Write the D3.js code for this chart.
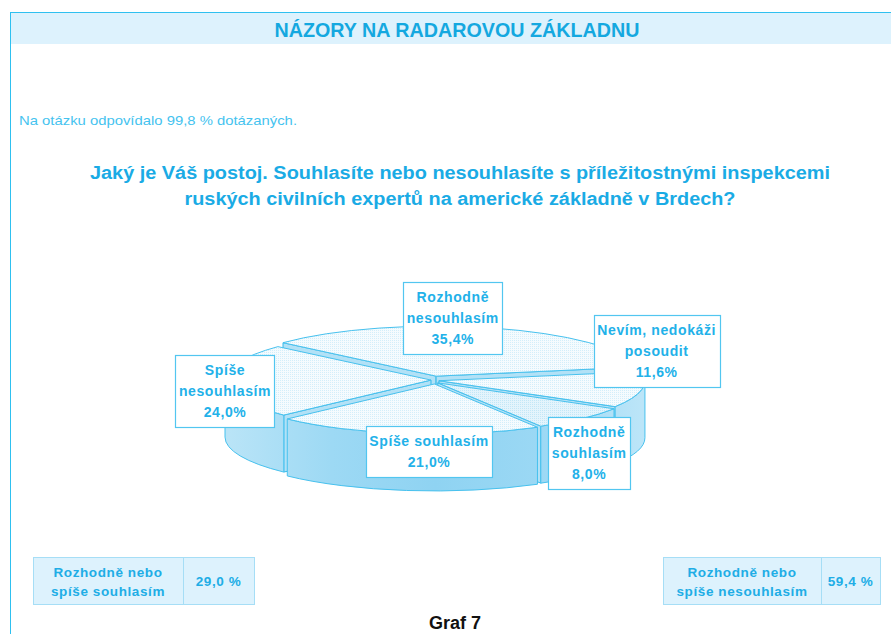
<!DOCTYPE html>
<html><head><meta charset="utf-8">
<script src="https://cdn.jsdelivr.net/npm/d3@7"></script>
<style>body{margin:0;background:#fff}svg{display:block}</style>
</head><body>
<svg id="c" width="891" height="634"></svg>
<script>
// ---------- data ----------
const categories = ["Rozhodně nesouhlasím", "Nevím, nedokáži posoudit", "Rozhodně souhlasím", "Spíše souhlasím", "Spíše nesouhlasím"];
const labelLines = [["Rozhodně", "nesouhlasím"], ["Nevím, nedokáži", "posoudit"], ["Rozhodně", "souhlasím"], ["Spíše souhlasím"], ["Spíše", "nesouhlasím"]];
const values = [35.4, 11.6, 8.0, 21.0, 24.0];
const summaryLabels = [["Rozhodně nebo", "spíše souhlasím"], ["Rozhodně nebo", "spíše nesouhlasím"]];
const summaryValues = [29.0, 59.4];
const titleText = "NÁZORY NA RADAROVOU ZÁKLADNU";
const noteText = "Na otázku odpovídalo 99,8 % dotázaných.";
const questionLines = ["Jaký je Váš postoj. Souhlasíte nebo nesouhlasíte s příležitostnými inspekcemi", "ruských civilních expertů na americké základně v Brdech?"];
const captionText = "Graf 7";

// ---------- layout ----------
const W = 891, H = 634;
const blue = "#22b1e9", line = "#47c1ee";
const cx = 435, cy = 380, rx = 206, ry = 50, depth = 57, explode = 4;
const labelNudge = [[-38, -14], [19, -38], [10, 37], [22, 22], [-4, 10]];
const fmt = v => d3.format(".1f")(v).replace(".", ",");

const svg = d3.select("#c");
const defs = svg.append("defs");
const p1 = defs.append("pattern").attr("id", "dotTop").attr("width", 2).attr("height", 2).attr("patternUnits", "userSpaceOnUse");
p1.append("rect").attr("width", 2).attr("height", 2).attr("fill", "#f5fbfe");
p1.append("rect").attr("width", 1).attr("height", 1).attr("fill", "#d3eefa");
const p2 = defs.append("pattern").attr("id", "dotTop2").attr("width", 2).attr("height", 2).attr("patternUnits", "userSpaceOnUse");
p2.append("rect").attr("width", 2).attr("height", 2).attr("fill", "#e4f4fc");
p2.append("rect").attr("width", 1).attr("height", 1).attr("fill", "#c2e7f7");
const g1 = defs.append("linearGradient").attr("id", "wallGrad").attr("gradientUnits", "userSpaceOnUse")
  .attr("x1", cx - rx).attr("x2", cx + rx).attr("y1", 0).attr("y2", 0);
[[0, "#b9e4f7"], [0.25, "#9dd9f4"], [0.5, "#8fd3f2"], [0.75, "#9bd8f4"], [1, "#bbe5f8"]]
  .forEach(([o, c]) => g1.append("stop").attr("offset", o).attr("stop-color", c));

// frame
svg.append("rect").attr("x", 10).attr("y", 12).attr("width", W - 10).attr("height", 32).attr("fill", "#ddf2fd");
svg.append("line").attr("x1", 10).attr("x2", W).attr("y1", 12.5).attr("y2", 12.5).attr("stroke", "#2ec0f0");
svg.append("line").attr("x1", 10.5).attr("x2", 10.5).attr("y1", 12).attr("y2", H).attr("stroke", "#2ec0f0");

svg.append("text").attr("x", 457).attr("y", 37).attr("text-anchor", "middle")
  .attr("font-family", "Liberation Sans, Arial, sans-serif").attr("font-weight", "bold").attr("font-size", 20)
  .attr("fill", "#14a8e0").attr("textLength", 365).attr("lengthAdjust", "spacingAndGlyphs").text(titleText);

svg.append("text").attr("x", 19).attr("y", 125)
  .attr("font-family", "Liberation Sans, Arial, sans-serif").attr("font-size", 13.5)
  .attr("fill", "#45c3ef").attr("textLength", 278).attr("lengthAdjust", "spacingAndGlyphs").text(noteText);

const qLen = [740, 551];
questionLines.forEach((t, i) => {
  svg.append("text").attr("x", 460).attr("y", 179 + i * 26).attr("text-anchor", "middle")
    .attr("font-family", "Liberation Sans, Arial, sans-serif").attr("font-weight", "bold").attr("font-size", 18)
    .attr("fill", "#1aabe5").attr("textLength", qLen[i]).attr("lengthAdjust", "spacingAndGlyphs").text(t);
});

// ---------- pie ----------
const startDeg = -48;
const pie = d3.pie().sort(null).value(d => d)
  .startAngle(startDeg * Math.PI / 180).endAngle(startDeg * Math.PI / 180 + 2 * Math.PI);
const arcs = pie(values).map((d, i) => {
  const t0 = d.startAngle - Math.PI / 2, t1 = d.endAngle - Math.PI / 2, m = (t0 + t1) / 2;
  return { i, t0, t1, m, ox: explode * Math.cos(m), oy: explode * Math.sin(m) };
});
const P = (a, t, dz = 0) => [cx + rx * Math.cos(t) + a.ox, cy + ry * Math.sin(t) + a.oy + dz];
const C = (a, dz = 0) => [cx + a.ox, cy + a.oy + dz];
const pt = p => p[0].toFixed(2) + "," + p[1].toFixed(2);

const pieG = svg.append("g");
// radial faces
const faces = [];
arcs.forEach(a => {
  if (Math.cos(a.t0) < 0) faces.push({ a, t: a.t0 });
  if (Math.cos(a.t1) > 0) faces.push({ a, t: a.t1 });
});
faces.sort((f, g) => Math.sin(f.t) - Math.sin(g.t));
pieG.selectAll("path.face").data(faces).join("path").attr("class", "face")
  .attr("d", f => "M" + pt(C(f.a)) + "L" + pt(P(f.a, f.t)) + "L" + pt(P(f.a, f.t, depth)) + "L" + pt(C(f.a, depth)) + "Z")
  .attr("fill", "#b2e1f6").attr("stroke", "#33b9ea").attr("stroke-width", 1).attr("stroke-linejoin", "round");
// outer walls (front half)
const walls = arcs.map(a => ({ a, lo: Math.max(a.t0, 0), hi: Math.min(a.t1, Math.PI) })).filter(w => w.hi > w.lo);
pieG.selectAll("path.wall").data(walls).join("path").attr("class", "wall")
  .attr("d", w => {
    const lg = (w.hi - w.lo) > Math.PI ? 1 : 0;
    return "M" + pt(P(w.a, w.lo)) + "A" + rx + "," + ry + " 0 " + lg + " 1 " + pt(P(w.a, w.hi)) +
      "L" + pt(P(w.a, w.hi, depth)) + "A" + rx + "," + ry + " 0 " + lg + " 0 " + pt(P(w.a, w.lo, depth)) + "Z";
  })
  .attr("fill", "url(#wallGrad)").attr("stroke", line).attr("stroke-width", 1).attr("stroke-linejoin", "round");
// top faces
pieG.selectAll("path.top").data(arcs).join("path").attr("class", "top")
  .attr("d", a => {
    const lg = (a.t1 - a.t0) > Math.PI ? 1 : 0;
    return "M" + pt(C(a)) + "L" + pt(P(a, a.t0)) + "A" + rx + "," + ry + " 0 " + lg + " 1 " + pt(P(a, a.t1)) + "Z";
  })
  .attr("fill", a => a.i === 2 ? "url(#dotTop2)" : "url(#dotTop)")
  .attr("stroke", line).attr("stroke-width", 1).attr("stroke-linejoin", "round");

// labels
const labG = svg.append("g").attr("font-family", "Liberation Sans, Arial, sans-serif")
  .attr("font-weight", "bold").attr("font-size", 14).attr("fill", blue);
arcs.forEach(a => {
  const rim = [cx + rx * Math.cos(a.m), cy + ry * Math.sin(a.m)];
  const lx = rim[0] + labelNudge[a.i][0], ly = rim[1] + labelNudge[a.i][1];
  const lines = labelLines[a.i].concat([fmt(values[a.i]) + "%"]);
  const h = lines.length * 21 + 9;
  const g = labG.append("g");
  const rect = g.append("rect").attr("fill", "#fff").attr("stroke", "#52c6f0").attr("stroke-width", 1.2);
  let wmax = 0;
  lines.forEach((t, k) => {
    const tx = g.append("text").attr("x", lx).attr("y", ly - h / 2 + 20 + k * 21)
      .attr("text-anchor", "middle").attr("letter-spacing", 0.6).text(t);
    wmax = Math.max(wmax, tx.node().getComputedTextLength());
  });
  const w = wmax + 7;
  rect.attr("x", Math.round(lx - w / 2) + 0.5).attr("y", Math.round(ly - h / 2) + 0.5).attr("width", Math.round(w)).attr("height", Math.round(h));
});

// summary boxes
const boxes = [{ x: 33, w: 221, div: 150 }, { x: 663, w: 217, div: 158 }];
const sumG = svg.append("g").attr("font-family", "Liberation Sans, Arial, sans-serif")
  .attr("font-weight", "bold").attr("font-size", 13.5).attr("fill", "#20ade6");
boxes.forEach((b, i) => {
  const y0 = 557, bh = 47;
  sumG.append("rect").attr("x", b.x + 0.5).attr("y", y0 + 0.5).attr("width", b.w).attr("height", bh)
    .attr("fill", "#ddf2fd").attr("stroke", "#a6def6");
  sumG.append("line").attr("x1", b.x + b.div + 0.5).attr("x2", b.x + b.div + 0.5).attr("y1", y0).attr("y2", y0 + bh)
    .attr("stroke", "#a6def6");
  summaryLabels[i].forEach((t, k) => {
    sumG.append("text").attr("x", b.x + b.div / 2).attr("y", y0 + 20 + k * 19).attr("text-anchor", "middle")
      .attr("letter-spacing", 0.6).text(t);
  });
  sumG.append("text").attr("x", b.x + b.div + (b.w - b.div) / 2).attr("y", y0 + 29).attr("text-anchor", "middle")
    .attr("letter-spacing", 0.6).text(fmt(summaryValues[i]) + " %");
});

svg.append("text").attr("x", 455).attr("y", 629).attr("text-anchor", "middle")
  .attr("font-family", "Liberation Sans Narrow, Liberation Sans, Arial, sans-serif").attr("font-weight", "bold")
  .attr("font-size", 18).attr("fill", "#111").text(captionText);
</script>
</body></html>
